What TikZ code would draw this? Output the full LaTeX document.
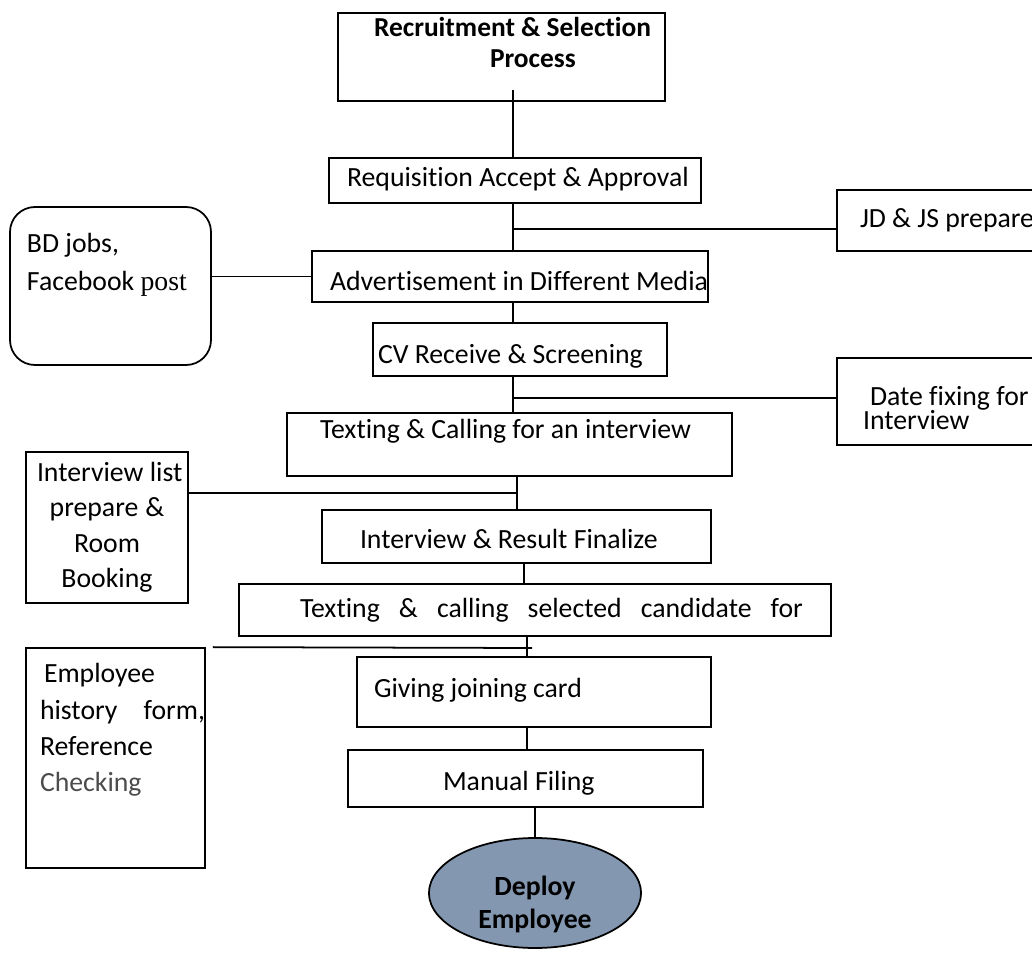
\documentclass[tikz,border=0pt]{standalone}
\usepackage{fontspec}
\setmainfont{Carlito}[Ligatures=NoCommon]
\newfontfamily\postfont{Liberation Serif}
\usetikzlibrary{positioning,shapes.geometric}
\newlength{\pxu}
\setlength{\pxu}{0.02cm}
\definecolor{deployblue}{HTML}{8497B0}
\newcommand{\boxfont}{\fontsize{15.8}{19}\selectfont}
\tikzset{
    boxsize/.style 2 args={minimum width=#1*\pxu,minimum height=#2*\pxu},
    textcol/.style={text width=#1*\pxu},
    textdrop/.style={text height=#1,text depth=0pt},
    textlift/.style={text height=0pt,text depth=#1},
    flowbox/.style={rectangle,draw,line width=1pt,inner sep=0pt,align=left,font=\boxfont,
        execute at begin node={\spaceskip=0pt\xspaceskip=0pt}},
    roundbox/.style={flowbox,rounded corners=0.5cm},
    endnode/.style={ellipse,draw,line width=1pt,fill=deployblue,inner sep=0pt,align=center,font=\boxfont\bfseries},
    flowlink/.style={line width=1pt}
}

\begin{document}
\begin{tikzpicture}[x=0.02cm,y=-0.02cm]
    \useasboundingbox (0,0) rectangle (1032,960);
    % main column
    \node[flowbox,boxsize={327}{88},textcol=255,textlift=23.9pt,font={\fontsize{15.6}{18.1}\selectfont\bfseries}] (title) at (501.5,57) {\mbox{Recruitment \& Selection}\\\hspace*{116\pxu}Process};
    \node[flowbox,boxsize={372}{45},textcol=336,textdrop=6.3pt] (req) at (515,180.5) {\mbox{Requisition Accept \& Approval}};
    \node[flowbox,boxsize={396}{51},textcol=360,textdrop=16.5pt] (adv) at (510,276.5) {\mbox{Advertisement in Different Media}};
    \node[flowbox,boxsize={294}{53},textcol=284,textdrop=15.4pt] (cv) at (520,349.5) {\mbox{CV Receive \& Screening}};
    \node[flowbox,boxsize={445}{63},textcol=379,textlift=6.3pt] (call) at (509.5,444.5) {\mbox{Texting \& Calling for an interview}};
    \node[flowbox,boxsize={389}{53},textcol=313,textdrop=13.1pt] (result) at (516.5,536.5) {\mbox{Interview \& Result Finalize}};
    \node[flowbox,boxsize={592}{52},textcol=470,textdrop=8pt] (select) at (535,610) {\makebox[503\pxu][s]{Texting \& calling selected candidate for}};
    \node[flowbox,boxsize={354}{70},textcol=320,textdrop=6.8pt] (card) at (534,692) {Giving joining card};
    \node[flowbox,boxsize={355}{57},textcol=165,textdrop=13.1pt] (filing) at (525.5,778.5) {Manual Filing};
    \node[endnode,boxsize={210}{110},textcol=150,textdrop=2.3pt,font={\fontsize{15.8}{19.3}\selectfont\bfseries}] (deploy) at (535,893) {Deploy\\Employee};
    % side notes
    \node[flowbox,boxsize={205}{61},textcol=159,textdrop=8.5pt] (jdjs) at (939.5,220.5) {\mbox{JD \& JS prepare}};
    \node[flowbox,boxsize={205}{87},textcol=153,textdrop=4pt,font={\fontsize{15.8}{14.2}\selectfont}] (date) at (939.5,401.5) {\hspace*{7\pxu}\mbox{Date fixing for}\\Interview};
    \node[roundbox,boxsize={201}{158},textcol=167,textlift=37.6pt,font={\fontsize{15.8}{21.5}\selectfont}] (media) at (110.5,286) {BD jobs,\\\mbox{Facebook {\postfont post}}};
    \node[flowbox,boxsize={162}{151},textcol=140,textlift=52.9pt,align=center,font={\fontsize{15.8}{20.2}\selectfont}] (list) at (107,527.5) {\mbox{Interview list}\\prepare \&\\Room\\Booking};
    \node[flowbox,boxsize={179}{220},textcol=151,textlift=85.4pt,font={\fontsize{15.8}{20.6}\selectfont}] (history) at (115.5,758) {\hspace*{4\pxu}Employee\\\makebox[165\pxu][s]{history form,}\\Reference\\\textcolor{black!70}{Checking}};
    % junctions on the spine
    \coordinate (titlepoint) at (513,90);
    \coordinate (jdpoint) at (513,229);
    \coordinate (datepoint) at (513,398);
    \coordinate (listpoint) at (517,493);
    \coordinate (resultpoint) at (524,573);
    \coordinate (historypoint) at (527,648);
    \draw[flowlink] (titlepoint) -- (req.north -| titlepoint);
    \draw[flowlink] (req.south -| jdpoint) -- (adv.north -| jdpoint);
    \draw[flowlink] (jdpoint) -- (jdjs.west |- jdpoint);
    \draw[flowlink] (media.east |- adv.west) -- (adv.west);
    \draw[flowlink] (adv.south -| datepoint) -- (cv.north -| datepoint);
    \draw[flowlink] (cv.south -| datepoint) -- (call.north -| datepoint);
    \draw[flowlink] (datepoint) -- (date.west |- datepoint);
    \draw[flowlink] (call.south -| listpoint) -- (result.north -| listpoint);
    \draw[flowlink] (listpoint) -- (list.east |- listpoint);
    \draw[flowlink] (result.south -| resultpoint) -- (select.north -| resultpoint);
    \draw[flowlink] (select.south -| historypoint) -- (card.north -| historypoint);
    \draw[flowlink] ([xshift=0.1cm]historypoint) -- ([xshift=0.14cm]history.north east);
    \draw[flowlink] (card.south -| historypoint) -- (filing.north -| historypoint);
    \draw[flowlink] (filing.south -| deploy.north) -- (deploy.north);
\end{tikzpicture}
\end{document}
